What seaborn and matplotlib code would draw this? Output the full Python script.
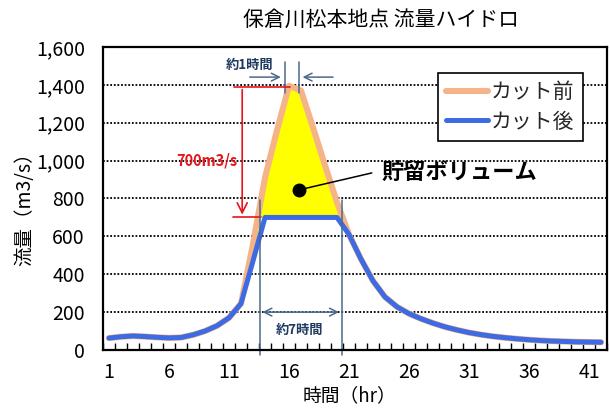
import matplotlib
matplotlib.use("Agg")
import matplotlib.pyplot as plt
import seaborn as sns
import pandas as pd
import numpy as np

# Hourly discharge at the Matsumoto point of the Hokura River
hours = list(range(1, 43))
flow_before = [63, 70, 74, 71, 67, 64, 66, 80, 100, 128, 170, 245,
               560, 910, 1160, 1395, 1370, 1175, 975, 780, 610, 480,
               365, 280, 228, 192, 165, 142, 122, 106, 92, 81,
               72, 65, 59, 54, 50, 47, 45, 43, 42, 41]
flow_after = [63, 70, 74, 71, 67, 64, 66, 80, 100, 128, 170, 245,
              470, 700, 700, 700, 700, 700, 700, 700, 610, 480,
              365, 280, 228, 192, 165, 142, 122, 106, 92, 81,
              72, 65, 59, 54, 50, 47, 45, 43, 42, 41]
series_names = ["カット前", "カット後"]
y_ticks = [0, 200, 400, 600, 800, 1000, 1200, 1400, 1600]
x_ticks = [1, 6, 11, 16, 21, 26, 31, 36, 41]

sns.set_theme(style="white")
plt.rcParams["font.family"] = ["Noto Sans CJK JP", "DejaVu Sans"]

df = pd.DataFrame({
    "時間": hours * 2,
    "流量": flow_before + flow_after,
    "ケース": [series_names[0]] * len(hours) + [series_names[1]] * len(hours),
})

fig = plt.figure(figsize=(6.10, 4.08), dpi=100)
ax = fig.add_axes([103 / 610, 1 - 350 / 408, 504 / 610, 303 / 408])

orange = "#F4B488"
blue = "#3D6BE3"
navy = "#4A6A8C"

# storage volume between the uncut hydrograph and the cut level
h = np.array(hours, dtype=float)
before = np.array(flow_before, dtype=float)
cut_level = max(flow_after)
ax.fill_between(h, cut_level, before, where=before > cut_level,
                interpolate=True, color="#FFFF00", linewidth=0, zorder=1.5)

sns.lineplot(data=df, x="時間", y="流量", hue="ケース",
             palette={series_names[0]: orange, series_names[1]: blue},
             ax=ax, legend=False, zorder=3)
lines = ax.get_lines()
lines[0].set_linewidth(4.4)
lines[0].set_zorder(2)
lines[1].set_linewidth(3.6)
lines[1].set_zorder(3)
for ln in lines[:2]:
    ln.set_solid_joinstyle("round")
    ln.set_solid_capstyle("round")

ax.set_xlim(0.5, 42.5)
ax.set_ylim(0, 1600)
ax.set_yticks(y_ticks)
ax.set_yticklabels([f"{v:,}" for v in y_ticks])
ax.set_xticks(x_ticks)
ax.set_xticks(np.arange(0.5, 43, 1.0), minor=True)
ax.tick_params(axis="y", length=0, pad=13, labelsize=14, colors="black")
ax.tick_params(axis="x", which="major", length=0, pad=9, labelsize=14, colors="black")
ax.tick_params(axis="x", which="minor", direction="in", length=5, width=1,
               color="black", bottom=True)

for v in y_ticks[1:-1]:
    ax.axhline(v, color="black", lw=1.3, ls=(0, (1, 1)), zorder=1)
for s in ax.spines.values():
    s.set_color("black")
    s.set_linewidth(1.6)
    s.set_zorder(5)

ax.set_xlabel("時間（hr）", fontsize=13.5, color="black")
ax.set_ylabel("流量（m3/s）", fontsize=14, color="black")
ax.xaxis.set_label_coords(0.488, -0.116)
ax.yaxis.set_label_coords(-0.135, 0.48)

fig.text(381 / 610, 1 - 20 / 408, "保倉川松本地点 流量ハイドロ", fontsize=15,
         ha="center", va="center", color="black")

handles = [plt.Line2D([], [], color=orange, lw=4.4),
           plt.Line2D([], [], color=blue, lw=3.6)]
leg = ax.legend(handles, series_names, loc="upper left",
                bbox_to_anchor=((438 - 103) / 504, (350 - 73) / 303),
                borderaxespad=0, fontsize=15, frameon=True, fancybox=False,
                framealpha=1, edgecolor="black", handlelength=2.0,
                handletextpad=0.15, labelspacing=0.35, borderpad=0.4)
leg.get_frame().set_linewidth(1.2)
leg.set_zorder(6)

# peak shift: about one hour
ax.plot([15.63, 15.63], [1357, 1520], color=navy, lw=1.1, zorder=4)
ax.plot([16.8, 16.8], [1357, 1520], color=navy, lw=1.1, zorder=4)
ax.annotate("", xy=(15.55, 1441), xytext=(12.5, 1441),
            arrowprops=dict(arrowstyle="->", color=navy, lw=1.1,
                            mutation_scale=14), zorder=4)
ax.annotate("", xy=(16.9, 1441), xytext=(19.9, 1441),
            arrowprops=dict(arrowstyle="->", color=navy, lw=1.1,
                            mutation_scale=14), zorder=4)
ax.text(12.75, 1505, "約1時間", fontsize=9.5, fontweight="bold",
        color="#1F3A60", ha="center", va="center", zorder=4)

# cut amount: 700 m3/s
red = "#E8141B"
ax.plot([11.45, 16.1], [1390, 1390], color=red, lw=1.2, zorder=4)
ax.plot([11.3, 13.7], [cut_level, cut_level], color=red, lw=1.2, zorder=4)
ax.annotate("", xy=(12.1, cut_level), xytext=(12.1, 1390),
            arrowprops=dict(arrowstyle="->", color=red, lw=1.2,
                            mutation_scale=18), zorder=4)
ax.text(11.7, 1000, "700m3/s", fontsize=10.5, fontweight="bold", color=red,
        ha="right", va="center", zorder=4)

# storage volume label
ax.plot([16.8, 22.9], [845, 935], color="black", lw=1.1, zorder=4)
ax.plot([16.8], [845], marker="o", ms=9, color="black", zorder=4)
ax.text(23.75, 940, "貯留ボリューム", fontsize=16, fontweight="bold",
        color="black", ha="left", va="center", zorder=4)

# cut duration: about seven hours
for xv in (13.55, 20.4):
    ax.plot([xv, xv], [-25, 792], color=navy, lw=1.1, zorder=4, clip_on=False)
ax.annotate("", xy=(13.55, 200), xytext=(20.4, 200),
            arrowprops=dict(arrowstyle="<->", color=navy, lw=1.1,
                            mutation_scale=14), zorder=4)
ax.text(16.9, 105, "約7時間", fontsize=9.5, fontweight="bold",
        color="#1F3A60", ha="center", va="center", zorder=4)

fig.savefig("out.png", dpi=100)
